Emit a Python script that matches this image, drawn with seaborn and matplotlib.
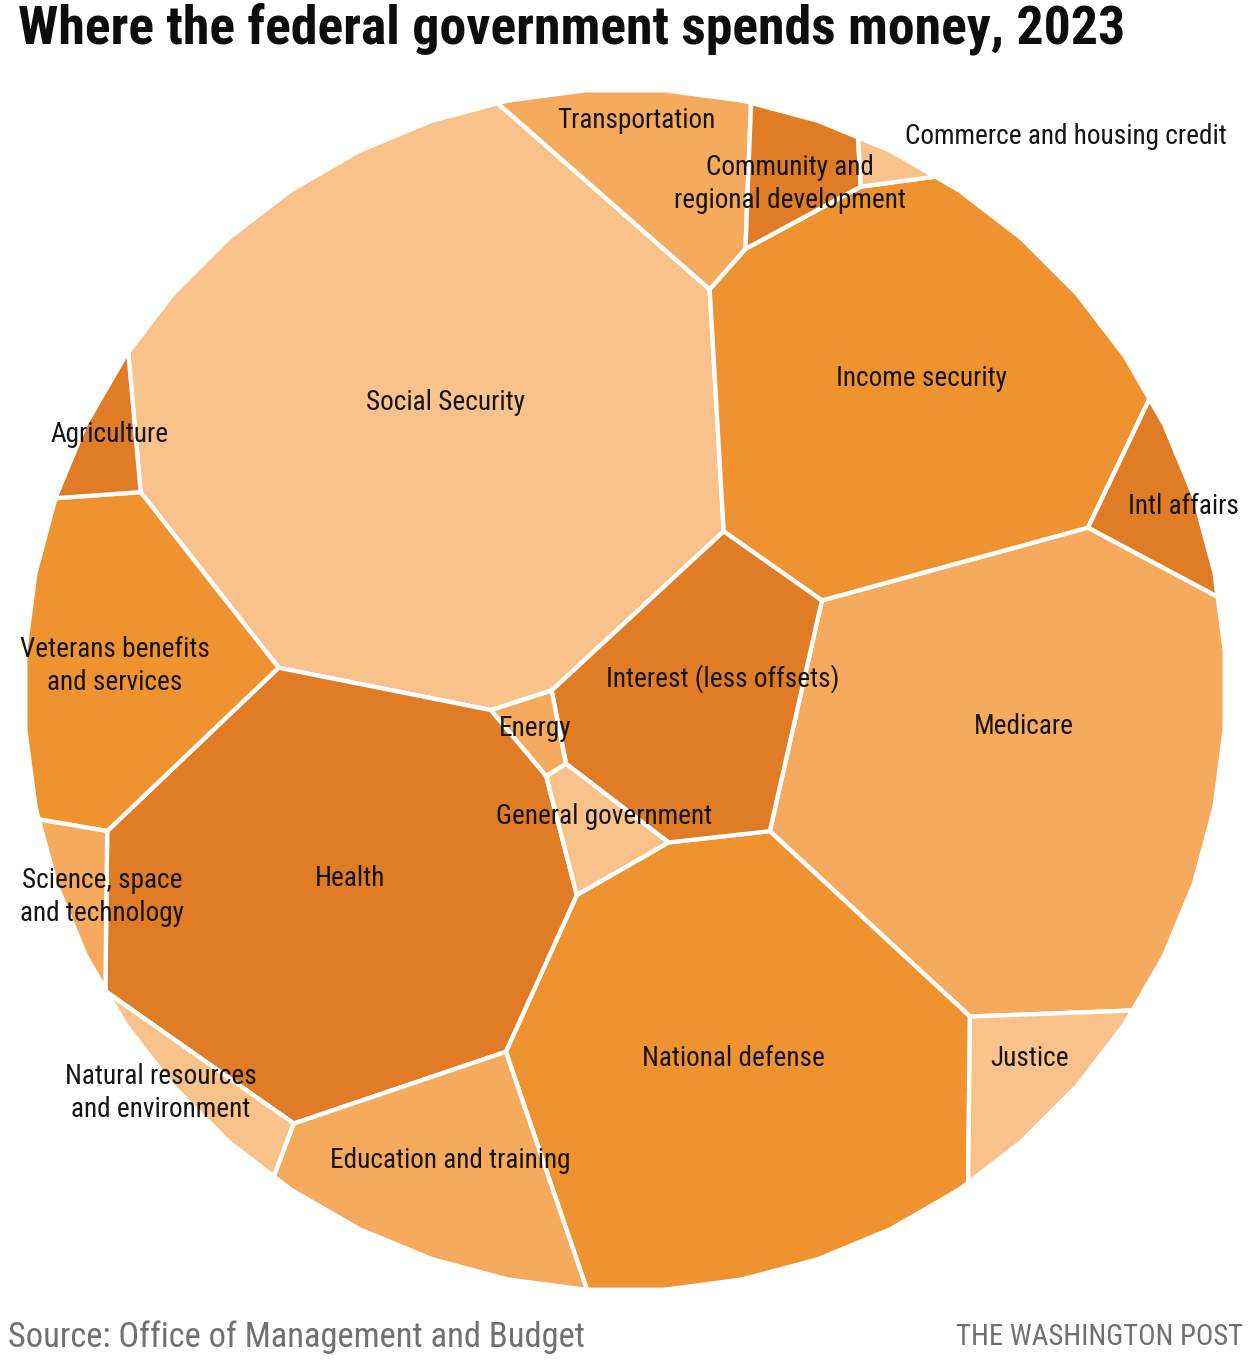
import numpy as np
import seaborn as sns
import matplotlib
matplotlib.use("Agg")
import matplotlib.pyplot as plt
from matplotlib import font_manager

# 2023 federal outlays by function, billions of dollars
categories = ["Social Security", "Medicare", "National defense", "Health",
              "Income security", "Veterans benefits and services",
              "Interest (less offsets)", "Education and training", "Transportation",
              "Justice", "Intl affairs", "Community and regional development",
              "Natural resources and environment", "General government", "Agriculture",
              "Science, space and technology", "Energy", "Commerce and housing credit"]
values = [1322, 857, 805, 792, 682, 286, 275, 217, 144, 78, 60, 56, 43, 39, 33, 32, 17, 10]

# ---- layout (pixel space of the 1251x1360 canvas) ----
CENTER = np.array([625.0, 690.0])
RADIUS = 601.0
# seed points for the power diagram (roughly where each cell sits)
seeds = {
    "Social Security": (435, 418), "Medicare": (1030, 780), "National defense": (745, 1080),
    "Health": (340, 900), "Income security": (930, 380),
    "Veterans benefits and services": (110, 680), "Interest (less offsets)": (690, 705),
    "Education and training": (420, 1180), "Transportation": (660, 165),
    "Justice": (1035, 1085), "Intl affairs": (1165, 500),
    "Community and regional development": (800, 170),
    "Natural resources and environment": (185, 1085), "General government": (592, 820),
    "Agriculture": (105, 445), "Science, space and technology": (80, 905),
    "Energy": (540, 737), "Commerce and housing credit": (885, 168),
}
labels = {
    "Social Security": ("Social Security", 445, 402),
    "Medicare": ("Medicare", 1024, 727),
    "National defense": ("National defense", 733, 1058),
    "Health": ("Health", 350, 879),
    "Income security": ("Income security", 922, 379),
    "Veterans benefits and services": ("Veterans benefits\nand services", 115, 666),
    "Interest (less offsets)": ("Interest (less offsets)", 723, 679),
    "Education and training": ("Education and training", 450, 1160),
    "Transportation": ("Transportation", 636, 120),
    "Justice": ("Justice", 1030, 1058),
    "Intl affairs": ("Intl affairs", 1183, 506),
    "Community and regional development": ("Community and\nregional development", 790, 184),
    "Natural resources and environment": ("Natural resources\nand environment", 161, 1093),
    "General government": ("General government", 604, 817),
    "Agriculture": ("Agriculture", 110, 435),
    "Science, space and technology": ("Science, space\nand technology", 102, 897),
    "Energy": ("Energy", 535, 729),
    "Commerce and housing credit": ("Commerce and housing credit", 1066, 137),
}
LIGHT, MEDLIGHT, MED, DARK = "#F9C28A", "#F6AA5D", "#EF9331", "#E07B26"
colors = {
    "Social Security": LIGHT, "Medicare": MEDLIGHT, "National defense": MED, "Health": DARK,
    "Income security": MED, "Veterans benefits and services": MED,
    "Interest (less offsets)": DARK, "Education and training": MEDLIGHT,
    "Transportation": MEDLIGHT, "Justice": LIGHT, "Intl affairs": DARK,
    "Community and regional development": DARK, "Natural resources and environment": LIGHT,
    "General government": LIGHT, "Agriculture": DARK, "Science, space and technology": MEDLIGHT,
    "Energy": MEDLIGHT, "Commerce and housing credit": LIGHT,
}


# ---- weighted voronoi (power diagram) treemap inside the circle ----
def clip(poly, a, b):
    s = poly @ a - b
    ins = s <= 0
    if ins.all():
        return poly
    if not ins.any():
        return poly[:0]
    out = []
    n = len(poly)
    for k in range(n):
        k2 = (k + 1) % n
        if ins[k]:
            out.append(poly[k])
        if ins[k] != ins[k2]:
            t = s[k] / (s[k] - s[k2])
            out.append(poly[k] + t * (poly[k2] - poly[k]))
    return np.array(out)


def area_centroid(p):
    if len(p) < 3:
        return 0.0, None
    x, y = p[:, 0], p[:, 1]
    x1, y1 = np.roll(x, -1), np.roll(y, -1)
    c = x * y1 - x1 * y
    a = c.sum() / 2
    if abs(a) < 1e-9:
        return 0.0, None
    return abs(a), np.array([((x + x1) * c).sum() / (6 * a), ((y + y1) * c).sum() / (6 * a)])


def power_cells(pts, w, outline):
    cells = []
    sq = (pts ** 2).sum(1)
    for i in range(len(pts)):
        poly = outline
        order = np.argsort(((pts - pts[i]) ** 2).sum(1))
        for j in order[1:]:
            a = 2 * (pts[j] - pts[i])
            b = (sq[j] - w[j]) - (sq[i] - w[i])
            poly = clip(poly, a, b)
            if len(poly) == 0:
                break
        cells.append(poly)
    return cells


theta = np.linspace(0, 2 * np.pi, 49)[:-1] + np.pi / 48
outline = CENTER + RADIUS * np.c_[np.cos(theta), np.sin(theta)]
total_area = area_centroid(outline)[0]
vals = np.array(values, dtype=float)
target = vals / vals.sum() * total_area

pts = np.array([seeds[c] for c in categories], dtype=float)
w = np.zeros(len(pts))
for outer in range(4):
    for it in range(350):
        cells = power_cells(pts, w, outline)
        areas = np.array([area_centroid(c)[0] for c in cells])
        w += 0.3 * (target - areas)
    if outer < 3:
        cents = [area_centroid(c)[1] for c in cells]
        for i, c in enumerate(cents):
            if c is not None:
                pts[i] = 0.5 * pts[i] + 0.5 * c
cells = power_cells(pts, w, outline)

# ---- fonts ----
sns.set_theme(style="white")
available = {f.name for f in font_manager.fontManager.ttflist}
FONT = "DejaVu Sans"
for cand in ["Roboto Condensed", "Liberation Sans Narrow", "Open Sans Condensed",
             "Roboto", "Liberation Sans"]:
    if cand in available:
        FONT = cand
        break
plt.rcParams["font.family"] = [FONT, "DejaVu Sans"]

fig = plt.figure(figsize=(12.51, 13.6), dpi=100)
ax = fig.add_axes([0, 0, 1, 1])
ax.set_xlim(0, 1251)
ax.set_ylim(1360, 0)
ax.axis("off")

for cat, poly in zip(categories, cells):
    if len(poly) >= 3:
        ax.fill(poly[:, 0], poly[:, 1], facecolor=colors[cat], edgecolor="white",
                linewidth=3.1, joinstyle="miter")

texts = []
for cat in categories:
    txt, lx, ly = labels[cat]
    texts.append(ax.text(lx, ly, txt, ha="center", va="center", fontsize=16,
                         color="#141414", linespacing=1.25))

title = ax.text(18, 29, "Where the federal government spends money, 2023", fontsize=30,
                fontweight="bold", color="#0d0d0d", ha="left", va="center")
src = ax.text(8, 1337, "Source: Office of Management and Budget", fontsize=20,
              color="#707070", ha="left", va="center")
wapo = ax.text(1243, 1337, "THE WASHINGTON POST", fontsize=16, color="#707070",
               ha="right", va="center")

fig.canvas.draw()
rend = fig.canvas.get_renderer()


def fit(t, width_px):
    bb = t.get_window_extent(renderer=rend)
    t.set_fontsize(t.get_fontsize() * width_px / bb.width)


fit(title, 1112)
fit(src, 577)
fit(wapo, 286)
ref = texts[categories.index("Commerce and housing credit")]
bb = ref.get_window_extent(renderer=rend)
lab_size = 16 * 323 / bb.width
for t in texts:
    t.set_fontsize(lab_size)

fig.savefig("out.png", dpi=100, facecolor="white")
